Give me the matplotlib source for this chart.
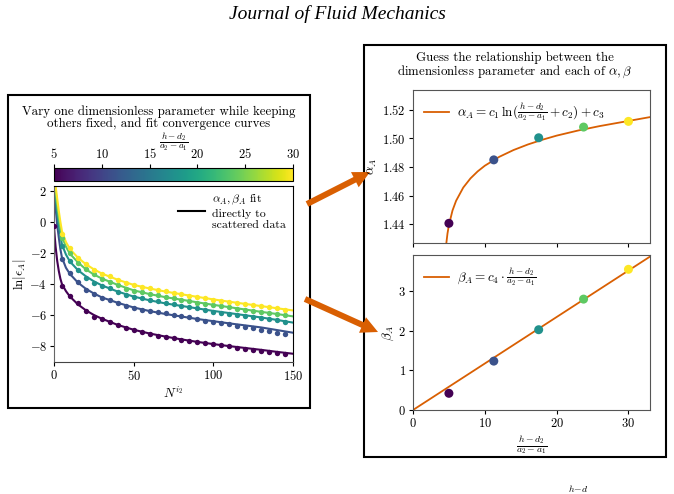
import numpy as np
import matplotlib
matplotlib.use("Agg")
import matplotlib.pyplot as plt
from matplotlib.patches import Rectangle, FancyArrow
from matplotlib.colors import Normalize
from matplotlib.cm import ScalarMappable

plt.rcParams['font.family'] = ['cmr10', 'DejaVu Serif']
plt.rcParams['mathtext.fontset'] = 'cm'
plt.rcParams['axes.formatter.use_mathtext'] = True
plt.rcParams['font.size'] = 9

# ---------------- data ----------------
params = [5, 11.25, 17.5, 23.75, 30]          # (h-d2)/(a2-a1)
alpha_A = [1.4405, 1.485, 1.5005, 1.508, 1.512]
beta_A = [0.42, 1.23, 2.02, 2.79, 3.54]

# fitted alpha curve
alpha_fit_x = [4.5, 4.6, 4.8, 5, 5.5, 6, 7, 8, 9, 10, 12, 14, 16, 18, 20, 23, 26, 29, 33]
alpha_fit_y = [1.4187, 1.4248, 1.4333, 1.4393, 1.4495, 1.4563, 1.4656, 1.4720, 1.4769,
               1.4809, 1.4871, 1.4919, 1.4958, 1.4991, 1.5020, 1.5056, 1.5087, 1.5114, 1.5150]
# fitted beta line
beta_fit_x = [0, 33]
beta_fit_y = [0, 3.86]

# scattered convergence data
N_pts = [5, 10, 15, 20, 25, 30, 35, 40, 45, 50, 55, 60, 65, 70, 75, 80, 85, 90, 95,
         100, 105, 110, 115, 120, 125, 130, 135, 140, 145]
eps_purple = [-4.11, -4.75, -5.24, -5.71, -6.08, -6.25, -6.46, -6.61, -6.8, -6.95, -7.08, -7.2,
              -7.3, -7.38, -7.49, -7.56, -7.63, -7.72, -7.78, -7.86, -7.93, -8.0, -8.07, -8.14,
              -8.21, -8.28, -8.35, -8.42, -8.51]
eps_blue = [-2.4, -3.3, -3.88, -4.37, -4.64, -4.86, -5.0, -5.22, -5.42, -5.52, -5.63, -5.7,
            -5.78, -5.88, -5.97, -6.06, -6.13, -6.23, -6.35, -6.42, -6.5, -6.58, -6.67, -6.75,
            -6.84, -6.93, -7.03, -7.13, -7.23]
eps_teal = [-1.55, -2.5, -3.08, -3.58, -3.9, -4.11, -4.28, -4.5, -4.69, -4.8, -4.91, -5.01,
            -5.11, -5.2, -5.29, -5.38, -5.47, -5.55, -5.66, -5.76, -5.83, -5.9, -5.97, -6.04,
            -6.11, -6.18, -6.25, -6.33, -6.42]
eps_green = [-1.01, -1.97, -2.62, -3.04, -3.36, -3.68, -3.85, -4.07, -4.3, -4.42, -4.53, -4.63,
             -4.73, -4.82, -4.91, -5.0, -5.09, -5.18, -5.27, -5.35, -5.43, -5.5, -5.58, -5.65,
             -5.73, -5.8, -5.87, -5.94, -6.01]
eps_yellow = [-0.75, -1.7, -2.3, -2.72, -3.09, -3.36, -3.51, -3.73, -3.95, -4.05, -4.17, -4.27,
              -4.37, -4.47, -4.56, -4.65, -4.74, -4.83, -4.92, -5.0, -5.07, -5.14, -5.21, -5.28,
              -5.35, -5.42, -5.49, -5.56, -5.63]
N0_purple = [0]
eps0_purple = [-0.3]

# fitted convergence curves
N_fit = [0, 0.5, 1, 2, 3, 4, 5, 7.5, 10, 15, 20, 25, 30, 40, 50, 60, 70, 80, 90, 100,
         110, 120, 130, 140, 150]
fit_purple = [-0.3, -1.0, -1.6, -2.5, -3.15, -3.65, -4.0, -4.45, -4.8, -5.3, -5.68, -5.98, -6.22,
              -6.62, -6.93, -7.17, -7.37, -7.55, -7.71, -7.85, -7.98, -8.1, -8.22, -8.35, -8.47]
fit_blue = [2.6, 1.6, 0.9, -0.2, -1.0, -1.75, -2.3, -2.95, -3.35, -3.9, -4.3, -4.6, -4.85,
            -5.2, -5.5, -5.73, -5.92, -6.08, -6.24, -6.38, -6.52, -6.65, -6.78, -6.95, -7.12]
fit_teal = [2.8, 2.2, 1.6, 0.6, -0.2, -0.9, -1.45, -2.1, -2.55, -3.1, -3.5, -3.82, -4.08,
            -4.48, -4.8, -5.04, -5.24, -5.4, -5.56, -5.72, -5.86, -6.0, -6.14, -6.3, -6.47]
fit_green = [3.0, 2.5, 2.0, 1.1, 0.3, -0.4, -0.95, -1.6, -2.05, -2.6, -3.05, -3.38, -3.64,
             -4.05, -4.4, -4.64, -4.84, -5.0, -5.17, -5.33, -5.48, -5.63, -5.78, -5.92, -6.07]
fit_yellow = [3.2, 2.8, 2.3, 1.5, 0.7, 0.0, -0.6, -1.3, -1.75, -2.3, -2.72, -3.05, -3.32,
              -3.72, -4.05, -4.28, -4.48, -4.65, -4.82, -4.98, -5.13, -5.27, -5.41, -5.55, -5.69]

eps_series = [eps_purple, eps_blue, eps_teal, eps_green, eps_yellow]
fit_series = [fit_purple, fit_blue, fit_teal, fit_green, fit_yellow]

ORANGE = '#d95f02'
W, H = 674, 494

fig = plt.figure(figsize=(W / 100, H / 100), dpi=100)


def fx(px):
    return px / W


def fy(py):
    return 1 - py / H


def rect(x0, y0, x1, y1):
    return [fx(x0), fy(y1), fx(x1) - fx(x0), fy(y0) - fy(y1)]


# overlay axes in pixel coords for boxes and arrows
ov = fig.add_axes([0, 0, 1, 1], zorder=-1)
ov.set_xlim(0, W)
ov.set_ylim(H, 0)
ov.axis('off')
ov.add_patch(Rectangle((8, 95), 302, 313, fill=False, lw=1.5, ec='black'))
ov.add_patch(Rectangle((364, 45), 302, 412, fill=False, lw=1.5, ec='black'))
for (x0, y0, x1, y1) in [(307, 204, 370, 172), (305, 299, 378, 332)]:
    ov.add_patch(FancyArrow(x0, y0, x1 - x0, y1 - y0, width=6, head_width=17,
                            head_length=17, length_includes_head=True,
                            color=ORANGE, lw=0))

fig.text(0.5, fy(14), 'Journal of Fluid Mechanics', ha='center', va='center',
         fontsize=14, family='Liberation Serif', style='italic')
fig.text(fx(159), fy(117.5), 'Vary one dimensionless parameter while keeping\nothers fixed, and fit convergence curves',
         ha='center', va='center', fontsize=9.3, linespacing=0.95)
fig.text(fx(515), fy(66), 'Guess the relationship between the\ndimensionless parameter and each of $\\alpha, \\beta$',
         ha='center', va='center', fontsize=9.3, linespacing=0.95)
fig.text(fx(578), fy(494), r'$h\!-\!d$', ha='center', va='bottom', fontsize=7)

cmap = plt.get_cmap('viridis')
norm = Normalize(vmin=5, vmax=30)
colors = [cmap(norm(p)) for p in params]

# ---------- left panel ----------
ax = fig.add_axes(rect(54, 186, 293, 362))
for eps, fit, c in zip(eps_series, fit_series, colors):
    ax.plot(N_fit, fit, color=c, lw=1.5, zorder=2)
    ax.scatter(N_pts, eps, color=c, s=15, zorder=3, lw=0)
ax.scatter(N0_purple, eps0_purple, color=colors[0], s=15, zorder=3, lw=0)
ax.plot([], [], color='black', lw=1.5, label='$\\alpha_A, \\beta_A$ fit\ndirectly to\nscattered data')
ax.legend(loc='upper right', frameon=False, fontsize=8.5, handlelength=2.3,
          borderaxespad=0.2, handletextpad=0.6, labelspacing=0.2)
ax.set_xlim(0, 150)
ax.set_ylim(-9, 2.3)
ax.set_xticks([0, 50, 100, 150])
ax.set_yticks([2, 0, -2, -4, -6, -8])
ax.set_xlabel('$N^{i_2}$', fontsize=9.5, labelpad=2)
ax.set_ylabel(r'$\ln|\epsilon_A|$', fontsize=9.5, labelpad=1)
ax.tick_params(labelsize=9, length=3, pad=2)
ax.spines['left'].set_color('#666666')
ax.spines['bottom'].set_color('#444444')

cax = fig.add_axes(rect(54, 168, 293, 181))
cb = fig.colorbar(ScalarMappable(norm=norm, cmap=cmap), cax=cax, orientation='horizontal')
cb.set_ticks([5, 10, 15, 20, 25, 30])
cax.xaxis.set_ticks_position('top')
cax.xaxis.set_label_position('top')
cax.tick_params(labelsize=9, length=3, pad=2)
cb.set_label(r'$\frac{h-d_2}{a_2-a_1}$', fontsize=9.5, labelpad=0)

# ---------- right top ----------
ax1 = fig.add_axes(rect(413, 90, 650, 243))
ax1.plot(alpha_fit_x, alpha_fit_y, color=ORANGE, lw=1.3,
         label=r'$\alpha_A = c_1\,\ln(\frac{h-d_2}{a_2-a_1}+c_2)+c_3$')
ax1.scatter(params, alpha_A, c=colors, s=42, zorder=3, lw=0)
ax1.set_xlim(0, 33)
ax1.set_ylim(1.4267, 1.534)
ax1.set_xticks([0, 10, 20, 30])
ax1.set_xticklabels([])
ax1.set_yticks([1.44, 1.46, 1.48, 1.50, 1.52])
ax1.set_ylabel(r'$\alpha_A$', fontsize=9.5, labelpad=2)
ax1.tick_params(labelsize=9, length=3, pad=2)
ax1.legend(loc='upper left', frameon=False, fontsize=9.5, handlelength=1.9,
           handletextpad=0.6, borderaxespad=0.4)

# ---------- right bottom ----------
ax2 = fig.add_axes(rect(413, 255, 650, 410))
ax2.plot(beta_fit_x, beta_fit_y, color=ORANGE, lw=1.3,
         label=r'$\beta_A = c_4\cdot\frac{h-d_2}{a_2-a_1}$')
ax2.scatter(params, beta_A, c=colors, s=42, zorder=3, lw=0)
ax2.set_xlim(0, 33)
ax2.set_ylim(0, 3.9)
ax2.set_xticks([0, 10, 20, 30])
ax2.set_yticks([0, 1, 2, 3])
ax2.set_ylabel(r'$\beta_A$', fontsize=9.5, labelpad=2)
ax2.set_xlabel(r'$\frac{h-d_2}{a_2-a_1}$', fontsize=10, labelpad=2)
ax2.tick_params(labelsize=9, length=3, pad=2)
ax2.legend(loc='upper left', frameon=False, fontsize=9.5, handlelength=1.9,
           handletextpad=0.6, borderaxespad=0.4)

for a in (ax1, ax2):
    for s in a.spines.values():
        s.set_color('#555555')

fig.savefig('out.png', dpi=100)
